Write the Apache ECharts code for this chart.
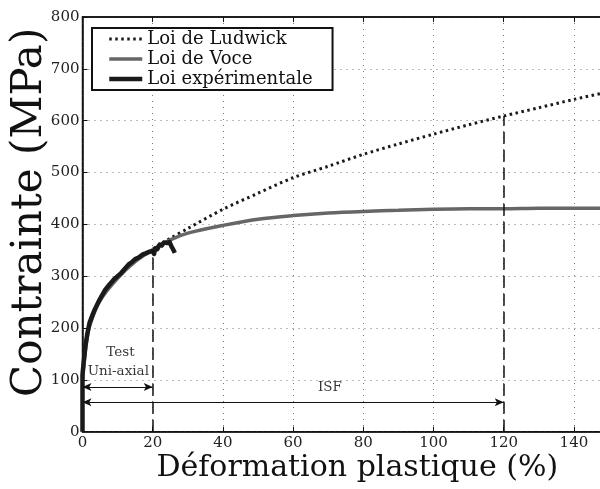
<!DOCTYPE html>
<html lang="fr">
<head>
<meta charset="UTF-8">
<title>Lois d'écrouissage</title>
<script src="https://cdn.jsdelivr.net/npm/echarts@6/dist/echarts.min.js"></script>
<style>
  html, body { margin: 0; padding: 0; background: #fff; }
  #chart { width: 600px; height: 489px; }
</style>
</head>
<body>
<div id="chart"></div>
<script>
// valeurs (déformation en %, contrainte en MPa)
var strainLudwick = [0, 1, 2, 5, 10, 15, 20, 25, 30, 40, 50, 60, 70, 80, 90, 100, 110, 120, 130, 140, 150];
var stressLudwick = [100, 168, 205, 255, 298, 330, 352, 373, 392, 429, 460, 490, 512, 535, 555, 574, 592, 609, 625, 641, 656];

var strainVoce = [0, 1, 2, 5, 10, 15, 20, 25, 30, 40, 50, 60, 70, 80, 90, 100, 110, 120, 130, 140, 150];
var stressVoce = [100, 166, 203, 253, 296, 328, 351, 370, 383, 398, 410, 417, 422, 425, 427, 429, 430, 430, 431, 431, 431];

var strainExp = [0, 0, 0.2, 0.4, 0.8, 1.4, 2, 3, 3.5, 4.5, 5.4, 6.5, 7.7, 9, 10, 11, 12, 12.5, 13.2, 13.9, 15, 16, 17.2, 18, 19, 20, 20.4, 20.7, 21.3, 22, 22.6, 23.2, 23.6, 24.2, 24.8, 25.3, 25.8, 26.3];
var stressExp = [0, 110, 125, 138, 164, 190, 210, 228, 236, 250, 261, 274, 284, 294, 300, 306, 314, 316, 323, 326, 333, 336, 342, 344, 347, 348, 343, 354, 352, 361, 359, 365, 367, 364, 366, 358, 352, 345];

var xTicks = [0, 20, 40, 60, 80, 100, 120, 140];
var yTicks = [0, 100, 200, 300, 400, 500, 600, 700, 800];

// limites des domaines : test uni-axial et ISF
var testLimit = 20, testTop = 350, testArrowY = 86;
var isfLimit = 120, isfTop = 609, isfArrowY = 57;

var labelTexts = ['Test', 'Uni-axial', 'ISF'];
var labelX = [10.8, 10.2, 70.5];
var labelY = [153, 116, 85];

function pairs(xs, ys) {
    var out = [];
    for (var i = 0; i < xs.length; i++) out.push([xs[i], ys[i]]);
    return out;
}

var serif = 'DejaVu Serif';
var chart = echarts.init(document.getElementById('chart'));

var labelData = [];
for (var i = 0; i < labelTexts.length; i++) {
    labelData.push({ name: labelTexts[i], value: [labelX[i], labelY[i]] });
}

var option = {
    animation: false,
    backgroundColor: '#fff',
    grid: {
        left: 82.5, right: -9, top: 17, bottom: 57.3,
        outerBoundsMode: 'none', containLabel: false,
        show: true, borderColor: '#111', borderWidth: 1.5
    },
    legend: {
        data: [
            { name: 'Loi de Ludwick', lineStyle: { width: 3, type: [2.5, 3.5], cap: 'butt' } },
            { name: 'Loi de Voce', lineStyle: { width: 3.5 } },
            { name: 'Loi expérimentale', lineStyle: { width: 4.5 } }
        ],
        orient: 'vertical',
        left: 92, top: 28,
        padding: [2, 20, 2, 15],
        itemWidth: 33, itemHeight: 14, itemGap: 2,
        itemStyle: { opacity: 0 },
        borderColor: '#111', borderWidth: 2, borderRadius: 0,
        backgroundColor: '#fff',
        textStyle: { fontFamily: serif, fontSize: 18, lineHeight: 18, color: '#111' }
    },
    xAxis: [{
        type: 'value', min: 0, max: 150, interval: 20,
        name: 'Déformation plastique (%)',
        nameLocation: 'middle', nameGap: 22, nameMoveOverlap: false,
        nameTextStyle: { fontFamily: serif, fontSize: 30, color: '#111', padding: [0, 0, 0, 23] },
        axisLine: { show: true, lineStyle: { color: '#111', width: 1.5 } },
        axisTick: { show: true, inside: true, length: 5, lineStyle: { color: '#111' } },
        axisLabel: {
            fontFamily: serif, fontSize: 15, color: '#222', margin: 4,
            formatter: function (v) { return xTicks.indexOf(v) >= 0 ? String(v) : ''; }
        },
        splitLine: { show: true, lineStyle: { color: '#777', type: [1, 5], width: 1 } }
    }, {
        type: 'value', min: 0, max: 150, interval: 20, position: 'top',
        axisLine: { show: true, lineStyle: { color: '#111', width: 1.5 } },
        axisTick: { show: true, inside: true, length: 5, lineStyle: { color: '#111' } },
        axisLabel: { show: false },
        splitLine: { show: false }
    }],
    yAxis: {
        type: 'value', min: 0, max: 800, interval: 100,
        name: 'Contrainte (MPa)',
        nameLocation: 'middle', nameGap: 31, nameMoveOverlap: false,
        nameTextStyle: { fontFamily: serif, fontSize: 42, color: '#111', padding: [0, 0, 0, 24] },
        axisLine: { show: true, lineStyle: { color: '#111', width: 1.5 } },
        axisTick: { show: true, inside: true, length: 5, lineStyle: { color: '#111' } },
        axisLabel: {
            fontFamily: serif, fontSize: 15, color: '#222', margin: 3,
            formatter: function (v) { return yTicks.indexOf(v) >= 0 ? String(v) : ''; }
        },
        splitLine: { show: true, lineStyle: { color: '#777', type: [1, 5], width: 1 } }
    },
    series: [{
        name: 'Loi de Ludwick', type: 'line', symbol: 'none', smooth: 0.3,
        data: pairs(strainLudwick, stressLudwick),
        lineStyle: { color: '#1a1a1a', width: 3, type: [2.5, 3.5], cap: 'butt' },
        itemStyle: { color: '#1a1a1a' }
    }, {
        name: 'Loi de Voce', type: 'line', symbol: 'none', smooth: 0.3,
        data: pairs(strainVoce, stressVoce),
        lineStyle: { color: '#666', width: 3.5 },
        itemStyle: { color: '#666' }
    }, {
        name: 'Loi expérimentale', type: 'line', symbol: 'none',
        data: pairs(strainExp, stressExp),
        lineStyle: { color: '#1a1a1a', width: 4.5, join: 'round' },
        itemStyle: { color: '#1a1a1a' }
    }, {
        name: 'repères', type: 'line', data: [], silent: true,
        markLine: {
            silent: true,
            label: { show: false },
            symbol: 'none',
            lineStyle: { color: '#111', width: 1.5, type: [12, 6] },
            data: [
                [{ coord: [testLimit, 0] }, { coord: [testLimit, testTop] }],
                [{ coord: [isfLimit, 0] }, { coord: [isfLimit, isfTop] }],
                [{ coord: [0, testArrowY], symbol: 'arrow', symbolSize: [6, 9], lineStyle: { type: 'solid', width: 1 } },
                 { coord: [testLimit, testArrowY], symbol: 'arrow', symbolSize: [6, 9] }],
                [{ coord: [0, isfArrowY], symbol: 'arrow', symbolSize: [6, 9], lineStyle: { type: 'solid', width: 1 } },
                 { coord: [isfLimit, isfArrowY], symbol: 'arrow', symbolSize: [6, 9] }]
            ]
        }
    }, {
        name: 'annotations', type: 'scatter', symbolSize: 0, silent: true,
        data: labelData,
        label: {
            show: true, position: 'inside',
            formatter: function (p) { return p.name; },
            fontFamily: serif, fontSize: 13.5, color: '#000'
        }
    }]
};

chart.setOption(option);
</script>
</body>
</html>
